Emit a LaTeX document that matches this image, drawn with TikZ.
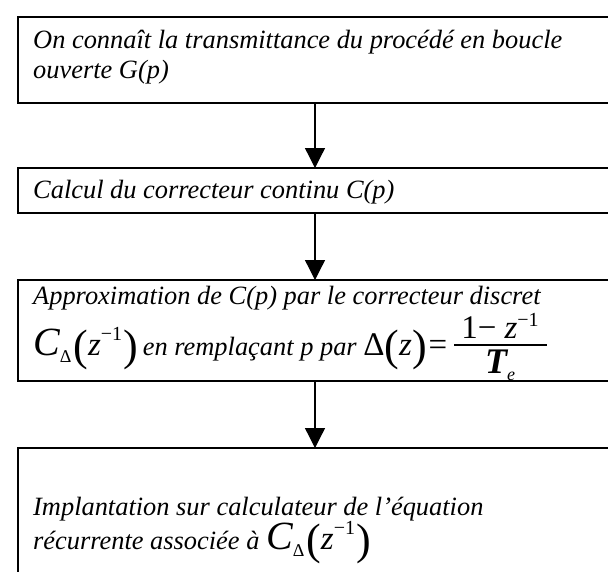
\documentclass[tikz,border=0pt]{standalone}
\usepackage{fontspec}
\setmainfont{Liberation Serif}
\usetikzlibrary{arrows.meta}
\newcommand{\bigpar}[1]{\raisebox{-5pt}{\fontsize{44}{44}\selectfont\upshape #1}}
\newcommand{\Cdelta}{{\fontsize{40}{40}\selectfont\itshape C}\raisebox{-7pt}{\fontsize{18}{18}\selectfont\upshape Δ}\hspace{2pt}\bigpar({\fontsize{33}{33}\selectfont\itshape z}\raisebox{15pt}{\fontsize{20}{20}\selectfont\upshape −1}\hspace{1pt}\bigpar)}
\newcommand{\Dz}{{\fontsize{33}{33}\selectfont\upshape Δ}\bigpar({\fontsize{33}{33}\selectfont\itshape z}\bigpar)\hspace{2pt}{\fontsize{33}{33}\selectfont\upshape =}}
\begin{document}
\begin{tikzpicture}[x=1pt,y=1pt,
  stepbox/.style={draw,line width=1.6pt,anchor=north west,minimum width=640pt,inner sep=0pt,outer sep=0pt},
  txt/.style={anchor=base west,font=\fontsize{26.4}{30}\selectfont\itshape,inner sep=0pt},
  mth/.style={anchor=base,inner sep=0pt},
  flow/.style={line width=1.3pt,-{Triangle[length=20pt,width=20pt]}}]
\useasboundingbox (0,0) rectangle (608,-571);
\clip (0,0) rectangle (608,-571);
\fill[white] (0,0) rectangle (608,-571);
\node[stepbox,minimum height=86pt] (b1) at (18,-17) {};
\node[stepbox,minimum height=45pt] (b2) at (18,-168) {};
\node[stepbox,minimum height=101pt] (b3) at (18,-280) {};
\node[stepbox,minimum height=140pt] (b4) at (18,-448) {};
\node[txt] (t1a) at (33,-48) {On connaît la transmittance du procédé en boucle};
\node[txt] (t1b) at (33,-78) {ouverte G(p)};
\node[txt] (t2) at (33,-198) {Calcul du correcteur continu C(p)};
\node[txt] (t3a) at (33,-304) {Approximation de C(p) par le correcteur discret};
\node[txt] (t3b) at (33,-355) {\Cdelta\hspace{5pt}en remplaçant p par \Dz};
\node[mth] (num) at (500,-338) {\fontsize{33}{33}\selectfont\upshape 1− {\itshape z}\raisebox{12pt}{\fontsize{20}{20}\selectfont −1}};
\node[mth] (den) at (500,-373) {{\fontsize{36}{36}\selectfont\itshape\bfseries T}\raisebox{-7pt}{\fontsize{18}{18}\selectfont\itshape e}};
\draw[line width=1.4pt] (454,-345) -- (547,-345);
\node[txt] (t4a) at (33,-515) {Implantation sur calculateur de l’équation};
\node[txt] (t4b) at (33,-549) {récurrente associée à \Cdelta};
\coordinate (a1s) at (315,-106);
\draw[flow] (b1.south -| a1s) -- (b2.north -| a1s);
\draw[flow] (b2.south -| a1s) -- (b3.north -| a1s);
\draw[flow] (b3.south -| a1s) -- (b4.north -| a1s);
\end{tikzpicture}
\end{document}
